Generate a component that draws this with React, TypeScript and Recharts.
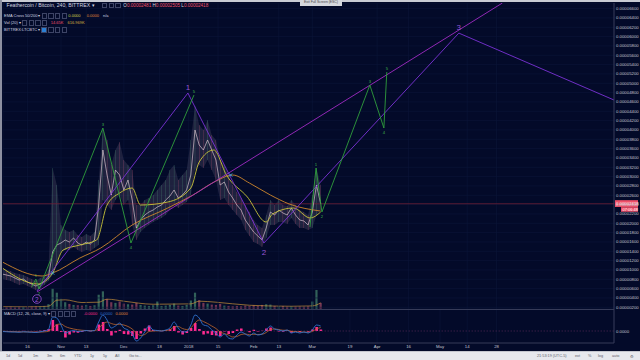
import React from "react";
import {
  ComposedChart,
  Line,
  Area,
  Bar,
  Cell,
  XAxis,
  YAxis,
  CartesianGrid,
  ReferenceLine,
  ReferenceDot,
} from "recharts";

// 240-min candles sampled every 2 days (day 0 = 1 Oct 2017), prices in satoshi
const days = [3,5,7,9,11,13,15,17,19,21,23,25,27,29,31,33,35,37,39,41,43,45,47,49,51,53,55,57,59,61,63,65,67,69,71,73,75,77,79,81,83,85,87,89,91,93,95,97,99,101,103,105,107,109,111,113,115,117,119,121,123,125,127,129,131,133,135,137,139,141,143,145,147,149,151,153,155];
const closes = [912,891,870,827,784,805,741,698,655,698,762,848,1384,1534,1577,1641,1598,1684,1577,1534,1598,1555,1641,2391,3570,3034,2605,3141,3034,2713,2927,2498,1898,2070,2177,2241,2284,2348,2391,2498,2584,2713,2541,2605,2713,3034,3998,3677,3570,3784,3570,3356,2820,2884,2670,2541,2391,2284,2070,1941,1813,1727,1641,1898,2241,2177,2284,2220,2177,2327,2177,2070,2048,1963,2241,2820,2418];
const highs = [1041,998,977,934,912,891,848,805,762,827,870,998,3184,2820,1963,1855,1813,1855,1748,1705,1770,1727,1813,2927,4041,3784,3248,3570,3741,3356,3248,3141,2391,2391,2498,2541,2605,2713,2820,2927,3141,3248,2927,3034,3141,3784,4513,4106,3998,4213,3891,3784,3356,3248,3034,2820,2670,2541,2391,2241,2070,1963,1898,2177,2498,2391,2498,2391,2370,2498,2391,2284,2241,2177,2605,3184,2820];
const lows = [805,784,762,720,677,698,655,612,570,591,677,762,891,1170,1384,1427,1427,1491,1427,1384,1427,1405,1470,1534,2498,2391,2284,2498,2605,2391,2498,1963,1641,1813,1898,1963,2027,2070,2113,2177,2284,2391,2327,2391,2455,2605,3141,3248,3184,3356,3141,2927,2498,2541,2391,2284,2177,2070,1855,1727,1598,1555,1491,1684,1963,1963,2027,2027,1984,2113,1984,1898,1898,1855,1898,2170,2284];
const volumes = [60,55,70,50,65,60,55,70,80,75,90,140,600,480,300,200,150,120,110,100,120,90,110,420,520,300,200,180,220,160,140,130,180,120,100,90,110,220,90,100,120,160,100,90,120,250,480,260,180,160,130,120,150,100,90,80,90,80,100,90,110,90,120,140,130,90,80,90,70,80,70,75,70,80,220,560,180];
const macdValues = [-10,-15,-20,-20,-25,-15,-20,-25,-30,-15,0,30,280,260,120,-40,-10,10,-10,-5,10,0,10,180,320,220,60,100,160,60,20,-60,-200,-140,-20,100,20,10,0,20,60,180,60,-20,-10,120,320,260,120,100,20,-40,-120,-60,-140,-160,-80,-20,-60,-100,-40,-80,-60,20,100,40,20,0,20,-40,-20,-40,-20,-40,20,120,100];
const signalValues = [-5,-8,-12,-15,-18,-18,-18,-20,-23,-22,-17,-8,60,130,140,90,60,40,25,15,10,8,8,50,140,180,150,130,135,120,90,40,-40,-90,-70,-10,0,5,5,10,25,80,90,50,30,60,160,220,190,150,100,50,-20,-50,-80,-120,-110,-70,-60,-75,-65,-70,-65,-30,30,40,30,15,15,-5,-10,-20,-20,-25,-10,40,70];
const histValues = [-5,-7,-8,-5,-7,3,-2,-5,-7,7,17,38,220,130,-20,-130,-70,-30,-35,-20,0,-8,2,130,180,40,-90,-30,25,-60,-70,-100,-160,-50,50,110,20,5,-5,10,35,100,-30,-70,-40,60,160,40,-70,-50,-80,-90,-100,-10,-60,-40,30,50,0,-25,25,-10,5,50,70,0,-10,-15,5,-35,-10,-20,0,-15,30,80,30];
const lastPrice = 2418;

const ema50Days = [3, 20, 27, 32, 40, 48, 53, 59, 65, 69, 82, 93, 97, 104, 110, 120, 129, 132, 142, 150, 155];
const ema50Values = [1041, 698, 934, 1427, 1534, 1641, 2391, 2648, 2756, 2391, 2455, 2756, 3313, 3570, 3034, 2563, 2027, 2198, 2327, 2113, 2241];
const ema200Days = [3, 22, 27, 40, 50, 65, 82, 94, 105, 113, 121, 131, 140, 155];
const ema200Values = [1170, 870, 934, 1255, 1470, 1963, 2327, 2605, 2905, 3034, 2862, 2605, 2413, 2262];
const volMaDays = [3, 15, 25, 29, 33, 41, 49, 53, 61, 75, 93, 97, 105, 121, 141, 151, 155];
const volMaValues = [70, 65, 80, 260, 270, 190, 200, 290, 230, 140, 150, 230, 200, 110, 80, 90, 180];

// Elliott wave drawings [day, price]
const minorWaveA = [[17, 634], [19, 805], [20.5, 591], [51, 4041], [64.4, 1577], [94.5, 4747]];
const minorWaveB = [[149.9, 1920], [152.8, 3184], [155.6, 2241], [178.5, 4961], [185.2, 4041], [186.6, 5241]];
const majorWave = [[19.5, 548], [91.6, 4791], [127.9, 1577], [221, 6075], [295.1, 4641]];
const channelLine = [[19.5, 527], [241.8, 6720]];
const emaCrosses = [[27, 934], [112, 3034]];

// [day, price, text, isPeak]
const minorLabels: [number, number, string, boolean][] = [
  [19, 805, "1", true], [20.5, 591, "2", false], [51, 4041, "3", true], [64.4, 1577, "4", false], [94.5, 4747, "5", true],
  [152.8, 3184, "1", true], [155.6, 2241, "2", false], [178.5, 4961, "3", true], [185.2, 4041, "4", false], [186.6, 5241, "5", true],
];
const majorLabels: [number, number, string, boolean][] = [
  [19.5, 548, "(2)", false], [91.6, 4791, "1", true], [127.9, 1577, "2", false], [221, 6075, "3", true],
];

const dateTicks = [15, 31, 43, 61, 78, 92, 106, 123, 135, 151, 169, 182, 197, 212, 225, 239];
const dateLabels = ["16", "Nov", "13", "Dec", "18", "2018", "15", "Feb", "13", "Mar", "19", "Apr", "16", "May", "14", "28"];
const priceTicks = [200,400,600,800,1000,1200,1400,1600,1800,2000,2200,2400,2600,2800,3000,3200,3400,3600,3800,4000,4200,4400,4600,4800,5000,5200,5400,5600,5800,6000,6200,6400,6600];

const X_DOMAIN = [3.3, 295.1];
const BG = "#030a29";
const GRID = "#0c1539";
const BORDER = "#363b58";
const AXIS_TEXT = "#c3c6d2";
const UP = "#5fb88a";
const DOWN = "#e2607e";
const PURPLE = "#7a32d6";
const MAGENTA = "#a02bc4";
const GREEN = "#2f9e3c";
const FONT = "'Liberation Sans', Arial, sans-serif";

const candles = days.map((day, i) => ({
  day,
  close: closes[i],
  range: [lows[i], highs[i]],
  vol: volumes[i],
  macd: macdValues[i],
  signal: signalValues[i],
  hist: histValues[i],
  up: i === 0 || closes[i] >= closes[i - 1],
}));

const pts = (pairs: number[][]) => pairs.map(([day, v]) => ({ day, v }));
const ema50 = ema50Days.map((day, i) => ({ day, v: ema50Values[i] }));
const ema200 = ema200Days.map((day, i) => ({ day, v: ema200Values[i] }));
const volMa = volMaDays.map((day, i) => ({ day, v: volMaValues[i] }));

const fmtPrice = (v: number) => (v / 1e8).toFixed(8);

function PriceTag(props: any) {
  const vb = props.viewBox || {};
  const x = vb.x + vb.width;
  const y = vb.y;
  return (
    <g>
      <rect x={x + 1} y={y - 3.6} width={23} height={6.8} fill="#ef5069" />
      <text x={x + 2} y={y + 1.6} fontSize={4.3} fill="#fff" fontFamily={FONT}>
        {fmtPrice(lastPrice)}
      </text>
      <rect x={x + 7} y={y + 3.4} width={17} height={4.6} fill="#ef5069" />
      <text x={x + 8.5} y={y + 7} fontSize={4} fill="#fff" fontFamily={FONT}>
        07:06:48
      </text>
    </g>
  );
}

const minorTag = (text: string, peak: boolean) => (p: any) => (
  <text x={p.cx} y={p.cy + (peak ? -2 : 6)} fontSize={4.2} fill="#3fb24a" textAnchor="middle" fontFamily={FONT}>
    {text}
  </text>
);

const majorTag = (text: string, peak: boolean) => (p: any) => {
  if (text === "(2)") {
    return (
      <g>
        <circle cx={p.cx} cy={p.cy + 8} r={4.3} fill="none" stroke="#9b4fd8" strokeWidth={0.8} />
        <text x={p.cx} y={p.cy + 10.6} fontSize={6.5} fill="#9b4fd8" textAnchor="middle" fontFamily={FONT}>2</text>
      </g>
    );
  }
  return (
    <text x={p.cx} y={p.cy + (peak ? -3 : 12)} fontSize={8} fill="#9556d4" textAnchor="middle" fontFamily={FONT}>
      {text}
    </text>
  );
};

const crossMark = (p: any) => (
  <g stroke="#3fa9e0" strokeWidth={0.9}>
    <line x1={p.cx - 1.6} y1={p.cy - 1.6} x2={p.cx + 1.6} y2={p.cy + 1.6} />
    <line x1={p.cx - 1.6} y1={p.cy + 1.6} x2={p.cx + 1.6} y2={p.cy - 1.6} />
  </g>
);

function Boxes({ n, first }: { n: number; first?: string }) {
  return (
    <>
      {Array.from({ length: n }).map((_, i) => (
        <span
          key={i}
          style={{
            display: "inline-block",
            width: 3.4,
            height: 3.4,
            border: "0.5px solid #3d4466",
            background: i === 0 && first ? first : "transparent",
            marginRight: 1.3,
            verticalAlign: "middle",
          }}
        />
      ))}
    </>
  );
}

const legendLine = (top: number, size: number): React.CSSProperties => ({
  position: "absolute",
  top,
  left: 4,
  fontSize: size,
  lineHeight: 1,
  whiteSpace: "nowrap",
  color: "#d3d6e0",
});

const leftItems = ["1d", "5d", "1m", "3m", "6m", "YTD", "1y", "5y", "All", "Go to..."];
const leftPos = [6, 18, 33, 47, 60, 74, 90, 103, 115, 129];
const rightItems = ["21:53:19 (UTC-5)", "ext", "%", "log", "auto", "⚙"];
const rightPos = [537, 575, 588, 598, 612, 630];

export default function App() {
  return (
    <div
      style={{
        position: "absolute",
        left: 0,
        top: 0,
        width: 640,
        height: 360,
        background: BG,
        overflow: "hidden",
        fontFamily: FONT,
      }}
    >
      {/* volume overlay (behind price) */}
      <div style={{ position: "absolute", left: 0, top: 3 }}>
        <ComposedChart width={640} height={306} data={candles} margin={{ top: 0, right: 26, left: 3, bottom: 0 }}>
          <XAxis dataKey="day" type="number" domain={X_DOMAIN} allowDataOverflow hide />
          <YAxis yAxisId="v" domain={[0, 9000]} hide />
          <Bar yAxisId="v" dataKey="vol" barSize={2.2} isAnimationActive={false}>
            {candles.map((c, i) => (
              <Cell key={i} fill={c.up ? UP : DOWN} fillOpacity={0.5} />
            ))}
          </Bar>
          <Line yAxisId="v" data={volMa} dataKey="v" type="monotone" stroke="#c9903a" strokeWidth={0.7} dot={false} isAnimationActive={false} />
        </ComposedChart>
      </div>

      {/* price pane */}
      <div style={{ position: "absolute", left: 0, top: 3 }}>
        <ComposedChart width={640} height={306} data={candles} margin={{ top: 0, right: 0, left: 3, bottom: 0 }}>
          <CartesianGrid yAxisId="p" stroke={GRID} strokeWidth={0.6} />
          <XAxis dataKey="day" type="number" domain={X_DOMAIN} ticks={dateTicks} allowDataOverflow hide />
          <YAxis
            yAxisId="p"
            orientation="right"
            width={26}
            domain={[163, 6720]}
            ticks={priceTicks}
            interval={0}
            allowDataOverflow
            tickFormatter={fmtPrice}
            tick={{ fontSize: 4.3, fill: AXIS_TEXT, fontFamily: FONT }}
            tickLine={false}
            tickSize={2}
            tickMargin={0}
            axisLine={{ stroke: BORDER }}
          />
          <ReferenceLine yAxisId="p" y={lastPrice} stroke="#6d1f36" strokeWidth={0.8} label={<PriceTag />} />
          <Area yAxisId="p" dataKey="range" type="linear" stroke="none" fill="#8d7b95" fillOpacity={0.2} isAnimationActive={false} />
          <Bar yAxisId="p" dataKey="range" barSize={1.8} isAnimationActive={false}>
            {candles.map((c, i) => (
              <Cell key={i} fill={c.up ? UP : DOWN} />
            ))}
          </Bar>
          <Line yAxisId="p" dataKey="close" type="linear" stroke="#d6c0cc" strokeWidth={0.7} dot={false} isAnimationActive={false} />
          <Line yAxisId="p" data={ema200} dataKey="v" type="monotone" stroke="#cf872c" strokeWidth={0.9} dot={false} isAnimationActive={false} />
          <Line yAxisId="p" data={ema50} dataKey="v" type="monotone" stroke="#c9c53a" strokeWidth={0.9} dot={false} isAnimationActive={false} />
          <Line yAxisId="p" data={pts(channelLine)} dataKey="v" type="linear" stroke={MAGENTA} strokeWidth={0.9} dot={false} isAnimationActive={false} />
          <Line yAxisId="p" data={pts(majorWave)} dataKey="v" type="linear" stroke={PURPLE} strokeWidth={0.9} dot={false} isAnimationActive={false} />
          <Line yAxisId="p" data={pts(minorWaveA)} dataKey="v" type="linear" stroke={GREEN} strokeWidth={0.9} dot={false} isAnimationActive={false} />
          <Line yAxisId="p" data={pts(minorWaveB)} dataKey="v" type="linear" stroke={GREEN} strokeWidth={0.9} dot={false} isAnimationActive={false} />
          {emaCrosses.map(([d, p], i) => (
            <ReferenceDot key={"x" + i} yAxisId="p" x={d} y={p} r={0} shape={crossMark} />
          ))}
          {minorLabels.map(([d, p, t, peak], i) => (
            <ReferenceDot key={"m" + i} yAxisId="p" x={d} y={p} r={0} shape={minorTag(t, peak)} />
          ))}
          {majorLabels.map(([d, p, t, peak], i) => (
            <ReferenceDot key={"M" + i} yAxisId="p" x={d} y={p} r={0} shape={majorTag(t, peak)} />
          ))}
        </ComposedChart>
      </div>

      {/* MACD pane + time axis */}
      <div style={{ position: "absolute", left: 0, top: 309 }}>
        <ComposedChart width={640} height={43} data={candles} margin={{ top: 0, right: 0, left: 3, bottom: 0 }}>
          <CartesianGrid stroke={GRID} strokeWidth={0.6} horizontal={false} />
          <XAxis
            dataKey="day"
            type="number"
            domain={X_DOMAIN}
            ticks={dateTicks}
            interval={0}
            allowDataOverflow
            height={9}
            tickFormatter={(v: number) => dateLabels[dateTicks.indexOf(v)]}
            tick={{ fontSize: 4.3, fill: AXIS_TEXT, fontFamily: FONT }}
            tickLine={false}
            tickSize={0}
            tickMargin={1.5}
            axisLine={{ stroke: BORDER }}
          />
          <YAxis
            orientation="right"
            width={26}
            domain={[-240, 440]}
            ticks={[0]}
            interval={0}
            tickFormatter={() => "0.0000"}
            tick={{ fontSize: 4.3, fill: AXIS_TEXT, fontFamily: FONT }}
            tickLine={false}
            tickSize={2}
            tickMargin={0}
            axisLine={{ stroke: BORDER }}
          />
          <ReferenceLine y={0} stroke="#5a2a5a" strokeDasharray="1.5 1.5" strokeWidth={0.6} />
          <Bar dataKey="hist" barSize={2.6} fill="#ff2a90" isAnimationActive={false} />
          <Line dataKey="signal" type="monotone" stroke="#c2672c" strokeWidth={0.8} dot={false} isAnimationActive={false} />
          <Line dataKey="macd" type="monotone" stroke="#2f72cf" strokeWidth={0.9} dot={false} isAnimationActive={false} />
        </ComposedChart>
      </div>

      {/* pane separators & frame */}
      <div style={{ position: "absolute", left: 2, top: 309, width: 612, height: 1, background: BORDER }} />
      <div style={{ position: "absolute", left: 0, top: 0, width: 640, height: 1.5, background: "#c9cbd3" }} />
      <div style={{ position: "absolute", left: 0, top: 0, width: 1.5, height: 351, background: "#8d90a0" }} />

      {/* legends */}
      <div style={legendLine(3, 5.2)}>
        <span style={{ display: "inline-block", width: 2.5 }} />
        Feathercoin / Bitcoin, 240, BITTREX ▾{" "}
        <span style={{ display: "inline-block", width: 6 }} />
        <Boxes n={3} />
        <span style={{ fontSize: 4.6 }}>
          {" "}O<span style={{ color: "#ef5069" }}>0.00002481</span> H<span style={{ color: "#ef5069" }}>0.00002505</span> L
          <span style={{ color: "#ef5069" }}>0.00002418</span>
        </span>
      </div>
      <div style={legendLine(13.3, 4)}>
        EMA Cross 50/200 ▾ <Boxes n={4} />
        <span style={{ color: "#d8d04a" }}>0.0000</span>{"   "}
        <span style={{ color: "#e0893a", marginLeft: 5 }}>0.0000</span>
        <span style={{ marginLeft: 4 }}>n/a</span>
      </div>
      <div style={legendLine(20.3, 4)}>
        Vol (20) ▾ <Boxes n={4} />
        <span style={{ color: "#ef5069", marginLeft: 2 }}>14.65K</span>
        <span style={{ color: "#d8b040", marginLeft: 4 }}>616.969K</span>
      </div>
      <div style={legendLine(27.3, 4)}>
        BITTREX:LTCBTC ▾ <Boxes n={4} first="#2a7fd4" />
      </div>
      <div style={legendLine(311.3, 4)}>
        MACD (12, 26, close, 9) ▾ <Boxes n={4} />
        <span style={{ color: "#ff2a90", marginLeft: 6 }}>-0.0000</span>
        <span style={{ color: "#2f72cf", marginLeft: 3 }}>0.0000</span>
        <span style={{ color: "#e0893a", marginLeft: 3 }}>0.0000</span>
      </div>

      {/* full-screen hint */}
      <div
        style={{
          position: "absolute",
          left: 300,
          top: 0,
          width: 42,
          height: 5.5,
          background: "#d5d7dd",
          color: "#444",
          fontSize: 3.4,
          lineHeight: "5.5px",
          textAlign: "center",
          whiteSpace: "nowrap",
        }}
      >
        Exit Full Screen (ESC)
      </div>

      {/* bottom toolbar */}
      <div style={{ position: "absolute", left: 0, top: 351, width: 640, height: 9, background: "#e7e8ed", borderTop: "0.5px solid #c4c6ce" }}>
        {leftItems.map((t, i) => (
          <span key={t} style={{ position: "absolute", left: leftPos[i], top: 2.4, fontSize: 3.8, color: "#5b5f6b", whiteSpace: "nowrap" }}>
            {t}
          </span>
        ))}
        {rightItems.map((t, i) => (
          <span key={t} style={{ position: "absolute", left: rightPos[i], top: 2.4, fontSize: 3.8, color: "#5b5f6b", whiteSpace: "nowrap" }}>
            {t}
          </span>
        ))}
      </div>
    </div>
  );
}
